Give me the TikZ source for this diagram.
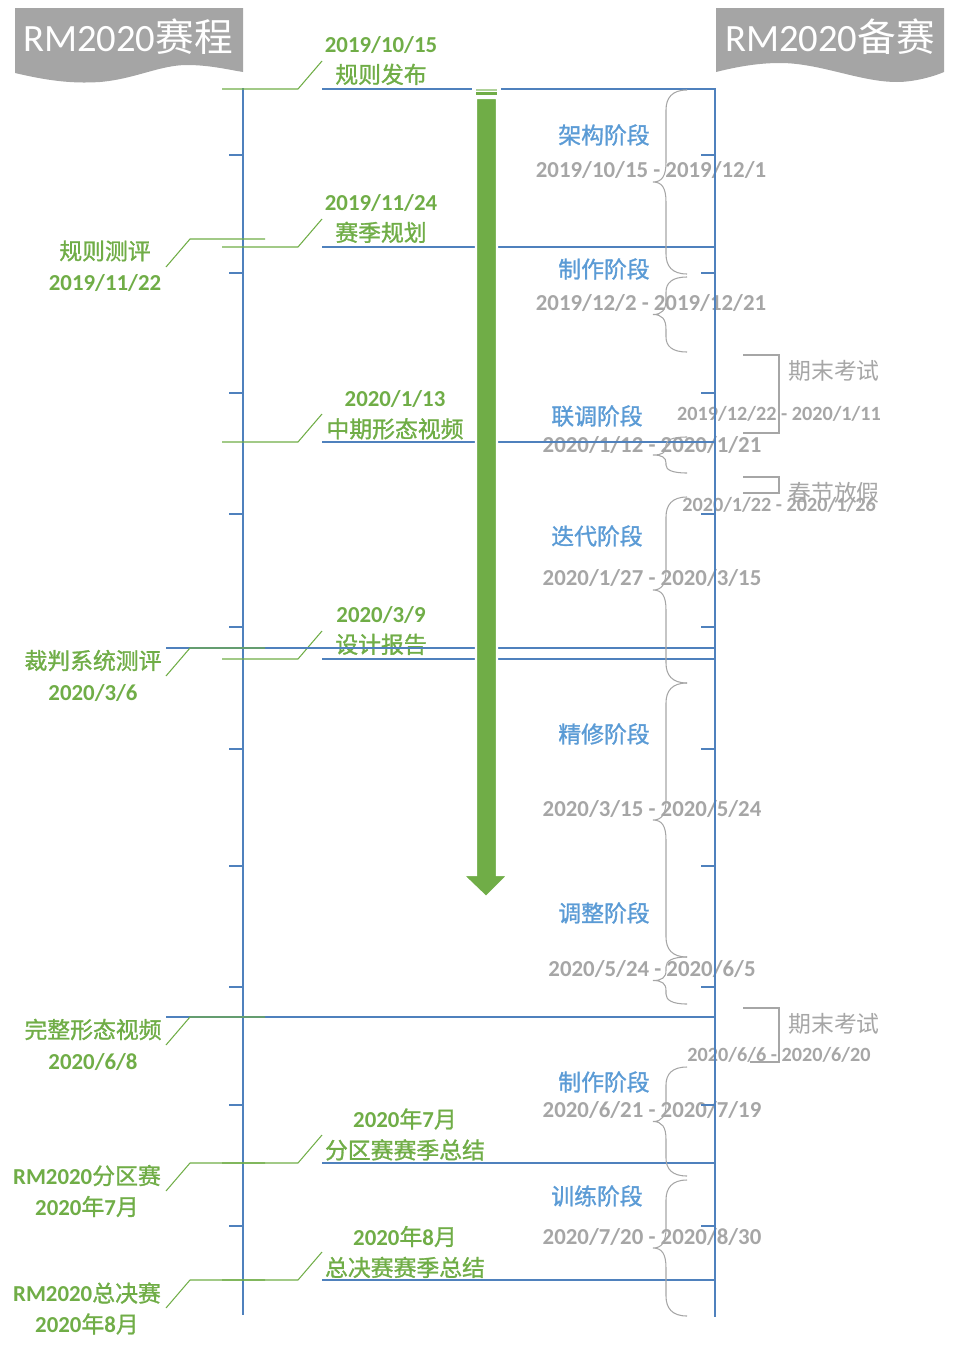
\documentclass[tikz,border=0pt]{standalone}
\usepackage{fontspec}
\setmainfont{Carlito}
\newfontfamily\cjk{Noto Sans CJK SC}
\newfontfamily\cjkheavy{Noto Sans CJK SC}[FakeBold=1.2]
\usepackage{tikz}
\usetikzlibrary{positioning}
\definecolor{eventGreen}{RGB}{112,173,71}
\definecolor{stageBlue}{RGB}{91,155,213}
\definecolor{axisBlue}{RGB}{79,129,189}
\definecolor{noteGray}{RGB}{166,166,166}
\definecolor{bannerGray}{RGB}{165,165,165}
\newcommand{\zh}[1]{{\cjkheavy\mdseries #1}}
% left curly brace: top, bottom, curl radius
\newcommand{\stagebrace}[3]{%
  \draw[braceline] (687,#1) .. controls (672,#1) and (666,{#1+#3*0.4}) .. (666,{#1+#3})
    -- (666,{(#1+#2)/2-#3}) .. controls (666,{(#1+#2)/2-#3*0.3}) and (662,{(#1+#2)/2}) .. (653,{(#1+#2)/2})
    .. controls (662,{(#1+#2)/2}) and (666,{(#1+#2)/2+#3*0.3}) .. (666,{(#1+#2)/2+#3})
    -- (666,{#2-#3}) .. controls (666,{#2-#3*0.4}) and (672,#2) .. (687,#2);}

\begin{document}
\begin{tikzpicture}[x=0.02cm, y=-0.02cm,
    every node/.style={inner sep=0pt, align=center},
    titletext/.style={text=white, font=\fontsize{22}{26}\selectfont},
    eventtext/.style={text=eventGreen, font=\fontsize{13}{17.6}\selectfont\bfseries},
    stagetext/.style={text=stageBlue, font=\fontsize{13}{15}\selectfont\cjkheavy},
    stagedate/.style={text=noteGray, font=\fontsize{13}{15}\selectfont\bfseries},
    offtext/.style={text=noteGray, font=\fontsize{13}{15}\selectfont\cjk},
    offdate/.style={text=noteGray, font=\fontsize{11.5}{14}\selectfont\bfseries},
    axisline/.style={axisBlue, line width=0.6pt},
    calloutline/.style={eventGreen, line width=0.6pt},
    braceline/.style={noteGray, line width=0.6pt},
    bracketline/.style={noteGray, line width=0.6pt}
  ]
  \useasboundingbox (0,0) rectangle (959,1352);
  % Title banners
  \fill[bannerGray] (15,8) -- (243,8) -- (243,72)
    .. controls (230,70) and (210,65) .. (187,65)
    .. controls (160,65) and (135,79) .. (100,82)
    .. controls (70,84) and (45,80) .. (15,73) -- cycle;
  \fill[bannerGray] (716,8) -- (944,8) -- (944,72)
    .. controls (935,76) and (915,82) .. (897,82)
    .. controls (860,82) and (820,63) .. (780,63)
    .. controls (760,63) and (740,66) .. (716,72) -- cycle;
  \node[titletext] (schedTitle) at (128,37) {RM2020{\cjk 赛程}};
  \node[titletext] (prepTitle) at (830,37) {RM2020{\cjk 备赛}};

  % Events right of the schedule axis
  \node[eventtext] (rulesOut) at (381,60.5) {2019/10/15\\\zh{规则发布}};
  \node[eventtext] (seasonPlan) at (381,218.5) {2019/11/24\\\zh{赛季规划}};
  \node[eventtext] (midVideo) at (395,415) {2020/1/13\\\zh{中期形态视频}};
  \node[eventtext] (designRep) at (381,630.5) {2020/3/9\\\zh{设计报告}};
  \node[eventtext] (zoneSum) at (405,1134.5) {2020\zh{年}7\zh{月}\\\zh{分区赛赛季总结}};
  \node[eventtext] (finalSum) at (405,1252) {2020\zh{年}8\zh{月}\\\zh{总决赛赛季总结}};

  % Events left of the schedule axis
  \node[eventtext] (rulesTest) at (105,266) {\zh{规则测评}\\2019/11/22};
  \node[eventtext] (refTest) at (93,675.5) {\zh{裁判系统测评}\\2020/3/6};
  \node[eventtext] (fullVideo) at (93,1044.5) {\zh{完整形态视频}\\2020/6/8};
  \node[eventtext] (zoneMatch) at (87,1191) {RM2020\zh{分区赛}\\2020\zh{年}7\zh{月}};
  \node[eventtext] (finalMatch) at (87,1308.5) {RM2020\zh{总决赛}\\2020\zh{年}8\zh{月}};

  % Preparation stages
  \node[stagetext] (archStage) at (604,135) {架构阶段};
  \node[stagedate] (archDate) at (651,170) {2019/10/15 - 2019/12/1};
  \node[stagetext] (buildStage) at (604,269) {制作阶段};
  \node[stagedate] (buildDate) at (651,303) {2019/12/2 - 2019/12/21};
  \node[stagetext] (tuneStage) at (597,416) {联调阶段};
  \node[stagedate] (tuneDate) at (652,445) {2020/1/12 - 2020/1/21};
  \node[stagetext] (iterStage) at (597,536) {迭代阶段};
  \node[stagedate] (iterDate) at (652,578) {2020/1/27 - 2020/3/15};
  \node[stagetext] (polishStage) at (604,734) {精修阶段};
  \node[stagedate] (polishDate) at (652,809) {2020/3/15 - 2020/5/24};
  \node[stagetext] (adjustStage) at (604,913) {调整阶段};
  \node[stagedate] (adjustDate) at (652,969) {2020/5/24 - 2020/6/5};
  \node[stagetext] (rebuildStage) at (604,1082) {制作阶段};
  \node[stagedate] (rebuildDate) at (652,1110) {2020/6/21 - 2020/7/19};
  \node[stagetext] (trainStage) at (597,1196) {训练阶段};
  \node[stagedate] (trainDate) at (652,1237) {2020/7/20 - 2020/8/30};

  % Breaks
  \node[offtext] (examA) at (834,371) {期末考试};
  \node[offdate] (examADate) at (779,414) {2019/12/22 - 2020/1/11};
  \node[offtext] (festival) at (834,493) {春节放假};
  \node[offdate] (festivalDate) at (779,505) {2020/1/22 - 2020/1/26};
  \node[offtext] (examB) at (834,1024) {期末考试};
  \node[offdate] (examBDate) at (779,1055) {2020/6/6 - 2020/6/20};

  % Axes and month ticks
  \draw[axisline] (243,88) -- (243,1315);
  \draw[axisline] (715,88) -- (715,1317);
  \foreach \ty in {155,273,393,514,627,749,866,987,1105,1226} {
    \draw[axisline] (229,\ty) -- (243,\ty);
    \draw[axisline] (701,\ty) -- (715,\ty);
  }

  % Event lines and callouts
  \foreach \ey in {89,247,442,659,1163,1280} {
    \draw[calloutline] (322,\ey-28) -- (298,\ey) -- (222,\ey);
    \draw[axisline] (322,\ey) -- (715,\ey);
  }
  \draw[axisline] (166,648) -- (715,648);
  \draw[axisline] (166,1017) -- (715,1017);
  \foreach \ey in {239,648,1017,1163,1280}
    \draw[calloutline] (166,\ey+28) -- (190,\ey) -- (265,\ey);

  % Stage braces
  \stagebrace{90}{274}{20}
  \stagebrace{277}{352}{15}
  \stagebrace{437}{473}{8}
  \stagebrace{497}{683}{20}
  \stagebrace{683}{957}{20}
  \stagebrace{957}{1004}{10}
  \stagebrace{1067}{1176}{18}
  \stagebrace{1180}{1316}{20}

  % Break brackets
  \draw[bracketline] (743,355) -- (779,355) -- (779,433) -- (743,433);
  \draw[bracketline] (743,477) -- (779,477) -- (779,493) -- (743,493);
  \draw[bracketline] (743,1008) -- (779,1008) -- (779,1062) -- (750,1062);

  % Progress arrow
  \fill[white] (472,86) rectangle (501,98);
  \fill[eventGreen!55] (476,89.3) rectangle (497,90.6);
  \fill[eventGreen] (476,92) rectangle (497,95);
  \filldraw[fill=eventGreen, draw=white, line width=1.2pt]
    (476,98) -- (497,98) -- (497,875) -- (508,875) -- (486,897)
    -- (463,875) -- (476,875) -- cycle;
\end{tikzpicture}
\end{document}
